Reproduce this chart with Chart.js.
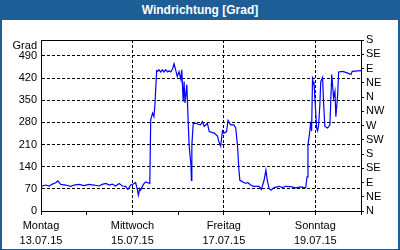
<!DOCTYPE html>
<html>
<head>
<meta charset="utf-8">
<script src="https://cdn.jsdelivr.net/npm/chart.js@4"></script>
<style>
  body { margin: 0; background: #fff; }
  #frame {
    width: 400px; height: 250px; box-sizing: border-box;
    border: 2px solid #1c5e95; border-top: 0; border-bottom-width: 1px;
    font-family: "Liberation Sans", Arial, sans-serif;
  }
  #title {
    height: 20px; line-height: 20px; background: #1c5e95; color: #fff;
    font-weight: bold; font-size: 12px; text-align: center;
  }
  canvas { display: block; }
</style>
</head>
<body>
<div id="frame">
  <div id="title">Windrichtung [Grad]</div>
  <canvas id="windChart" width="396" height="229"></canvas>
</div>
<script>
// time in days since Montag 13.07.15 00:00
const tDays = [
  0.00, 0.10, 0.18, 0.25, 0.32, 0.37, 0.43, 0.54, 0.65, 0.72, 0.83, 0.94, 1.05, 1.16, 1.27, 1.34,
  1.42, 1.49, 1.56, 1.63, 1.71, 1.78, 1.85, 1.90, 1.96, 2.02, 2.07, 2.11, 2.13, 2.16, 2.18, 2.24,
  2.29, 2.38, 2.40, 2.44, 2.47, 2.49, 2.53, 2.55, 2.58, 2.62, 2.66, 2.69, 2.73, 2.77, 2.80, 2.84,
  2.88, 2.91, 2.95, 2.98, 3.02, 3.06, 3.08, 3.11, 3.13, 3.15, 3.19, 3.22, 3.24, 3.28, 3.29, 3.30,
  3.33, 3.39, 3.44, 3.49, 3.53, 3.57, 3.64, 3.68, 3.79, 3.86, 3.89, 3.93, 3.97, 4.00, 4.06, 4.09,
  4.15, 4.22, 4.26, 4.30, 4.33, 4.35, 4.41, 4.48, 4.52, 4.59, 4.65, 4.77, 4.82, 4.88, 4.92, 4.95,
  4.99, 5.03, 5.10, 5.21, 5.28, 5.35, 5.46, 5.57, 5.68, 5.79, 5.82, 5.84, 5.88, 5.90, 5.92, 5.94,
  5.95, 5.97, 6.00, 6.03, 6.05, 6.07, 6.10, 6.12, 6.16, 6.18, 6.21, 6.27, 6.32, 6.34, 6.36, 6.40,
  6.43, 6.45, 6.49, 6.51, 6.60, 6.70, 6.78, 6.81, 7.00
];
const windDir = [
  78, 82, 79, 85, 89, 95, 84, 82, 78, 82, 84, 80, 84, 82, 79, 84,
  87, 82, 85, 79, 87, 79, 78, 68, 82, 85, 90, 66, 50, 71, 66, 84,
  92, 87, 288, 309, 298, 330, 443, 441, 446, 439, 446, 439, 446, 439, 443, 439,
  450, 465, 443, 425, 440, 415, 446, 346, 409, 341, 399, 282, 208, 145, 97, 208,
  277, 277, 274, 272, 282, 267, 277, 251, 246, 237, 219, 205, 253, 246, 251, 286,
  272, 272, 262, 203, 129, 97, 92, 87, 90, 82, 78, 78, 68, 97, 129, 97,
  71, 66, 74, 78, 74, 78, 77, 73, 76, 73, 108, 208, 251, 282, 253, 425,
  400, 409, 335, 262, 253, 267, 335, 409, 422, 346, 267, 262, 272, 351, 431, 357,
  378, 298, 367, 439, 441, 436, 431, 441, 443
];

const dayNames = ['Montag', 'Mittwoch', 'Freitag', 'Sonntag'];
const dayDates = ['13.07.15', '15.07.15', '17.07.15', '19.07.15'];
const dayTicks = [0, 1, 2, 3, 4, 5, 6, 7];
const gradTicks = [0, 70, 140, 210, 280, 350, 420, 490];
const compassTicks = [0, 45, 90, 135, 180, 225, 270, 315, 360, 405, 450, 495, 540];
const compassLabels = ['N', 'NE', 'E', 'SE', 'S', 'SW', 'W', 'NW', 'N', 'NE', 'E', 'SE', 'S'];

const FONT = { family: '"Liberation Sans", Arial, sans-serif', size: 11 };

const frameAndUnit = {
  id: 'frameAndUnit',
  afterDraw(chart) {
    const { ctx, chartArea: a, scales } = chart;
    ctx.save();
    ctx.strokeStyle = '#000';
    ctx.lineWidth = 1;
    ctx.beginPath();
    ctx.moveTo(a.left, a.top + 0.5);
    ctx.lineTo(a.right, a.top + 0.5);
    ctx.stroke();
    ctx.fillStyle = '#000';
    ctx.font = '11px "Liberation Sans", Arial, sans-serif';
    ctx.textAlign = 'right';
    ctx.textBaseline = 'middle';
    ctx.fillText('Grad', scales.y.right - 4, a.top + 6);
    ctx.restore();
  }
};

new Chart(document.getElementById('windChart'), {
  type: 'line',
  data: {
    datasets: [{
      data: tDays.map((t, i) => ({ x: t, y: windDir[i] })),
      borderColor: '#0000ff',
      borderWidth: 1.2,
      pointRadius: 0,
      tension: 0,
      yAxisID: 'y'
    }]
  },
  options: {
    responsive: false,
    animation: false,
    layout: { padding: { top: 20 } },
    plugins: { legend: { display: false }, tooltip: { enabled: false } },
    scales: {
      x: {
        type: 'linear', min: 0, max: 7,
        afterBuildTicks: s => { s.ticks = dayTicks.map(v => ({ value: v })); },
        afterFit: s => { s.height = 38; },
        ticks: {
          autoSkip: false, maxRotation: 0, padding: 3, color: '#000',
          font: { ...FONT, lineHeight: 1.38 },
          callback: v => {
            const i = dayTicks.indexOf(v);
            return (i % 2 === 0 && i / 2 < dayNames.length) ? [dayNames[i / 2], dayDates[i / 2]] : '';
          }
        },
        grid: {
          color: c => (c.tick && c.tick.value % 2 === 0 && c.tick.value > 0 && c.tick.value < 7) ? '#000' : 'rgba(0,0,0,0)',
          tickColor: '#000', tickLength: 4, lineWidth: 1
        },
        border: { color: '#000', width: 1, dash: [3, 2] }
      },
      y: {
        position: 'left', min: 0, max: 540,
        afterBuildTicks: s => { s.ticks = gradTicks.map(v => ({ value: v })); },
        afterFit: s => { s.width = 39; },
        ticks: { autoSkip: false, padding: 4, color: '#000', font: FONT },
        grid: {
          color: c => (c.tick && c.tick.value > 0) ? '#000' : 'rgba(0,0,0,0)',
          drawTicks: false, lineWidth: 1
        },
        border: { color: '#000', width: 1, dash: [3, 2] }
      },
      y2: {
        position: 'right', min: 0, max: 540,
        afterBuildTicks: s => { s.ticks = compassTicks.map(v => ({ value: v })); },
        afterFit: s => { s.width = 37; },
        ticks: {
          autoSkip: false, padding: 2, color: '#000', font: FONT,
          callback: v => compassLabels[compassTicks.indexOf(v)]
        },
        grid: { drawOnChartArea: false, tickColor: '#000', tickLength: 3 },
        border: { color: '#000', width: 1 }
      }
    }
  },
  plugins: [frameAndUnit]
});
</script>
</body>
</html>
